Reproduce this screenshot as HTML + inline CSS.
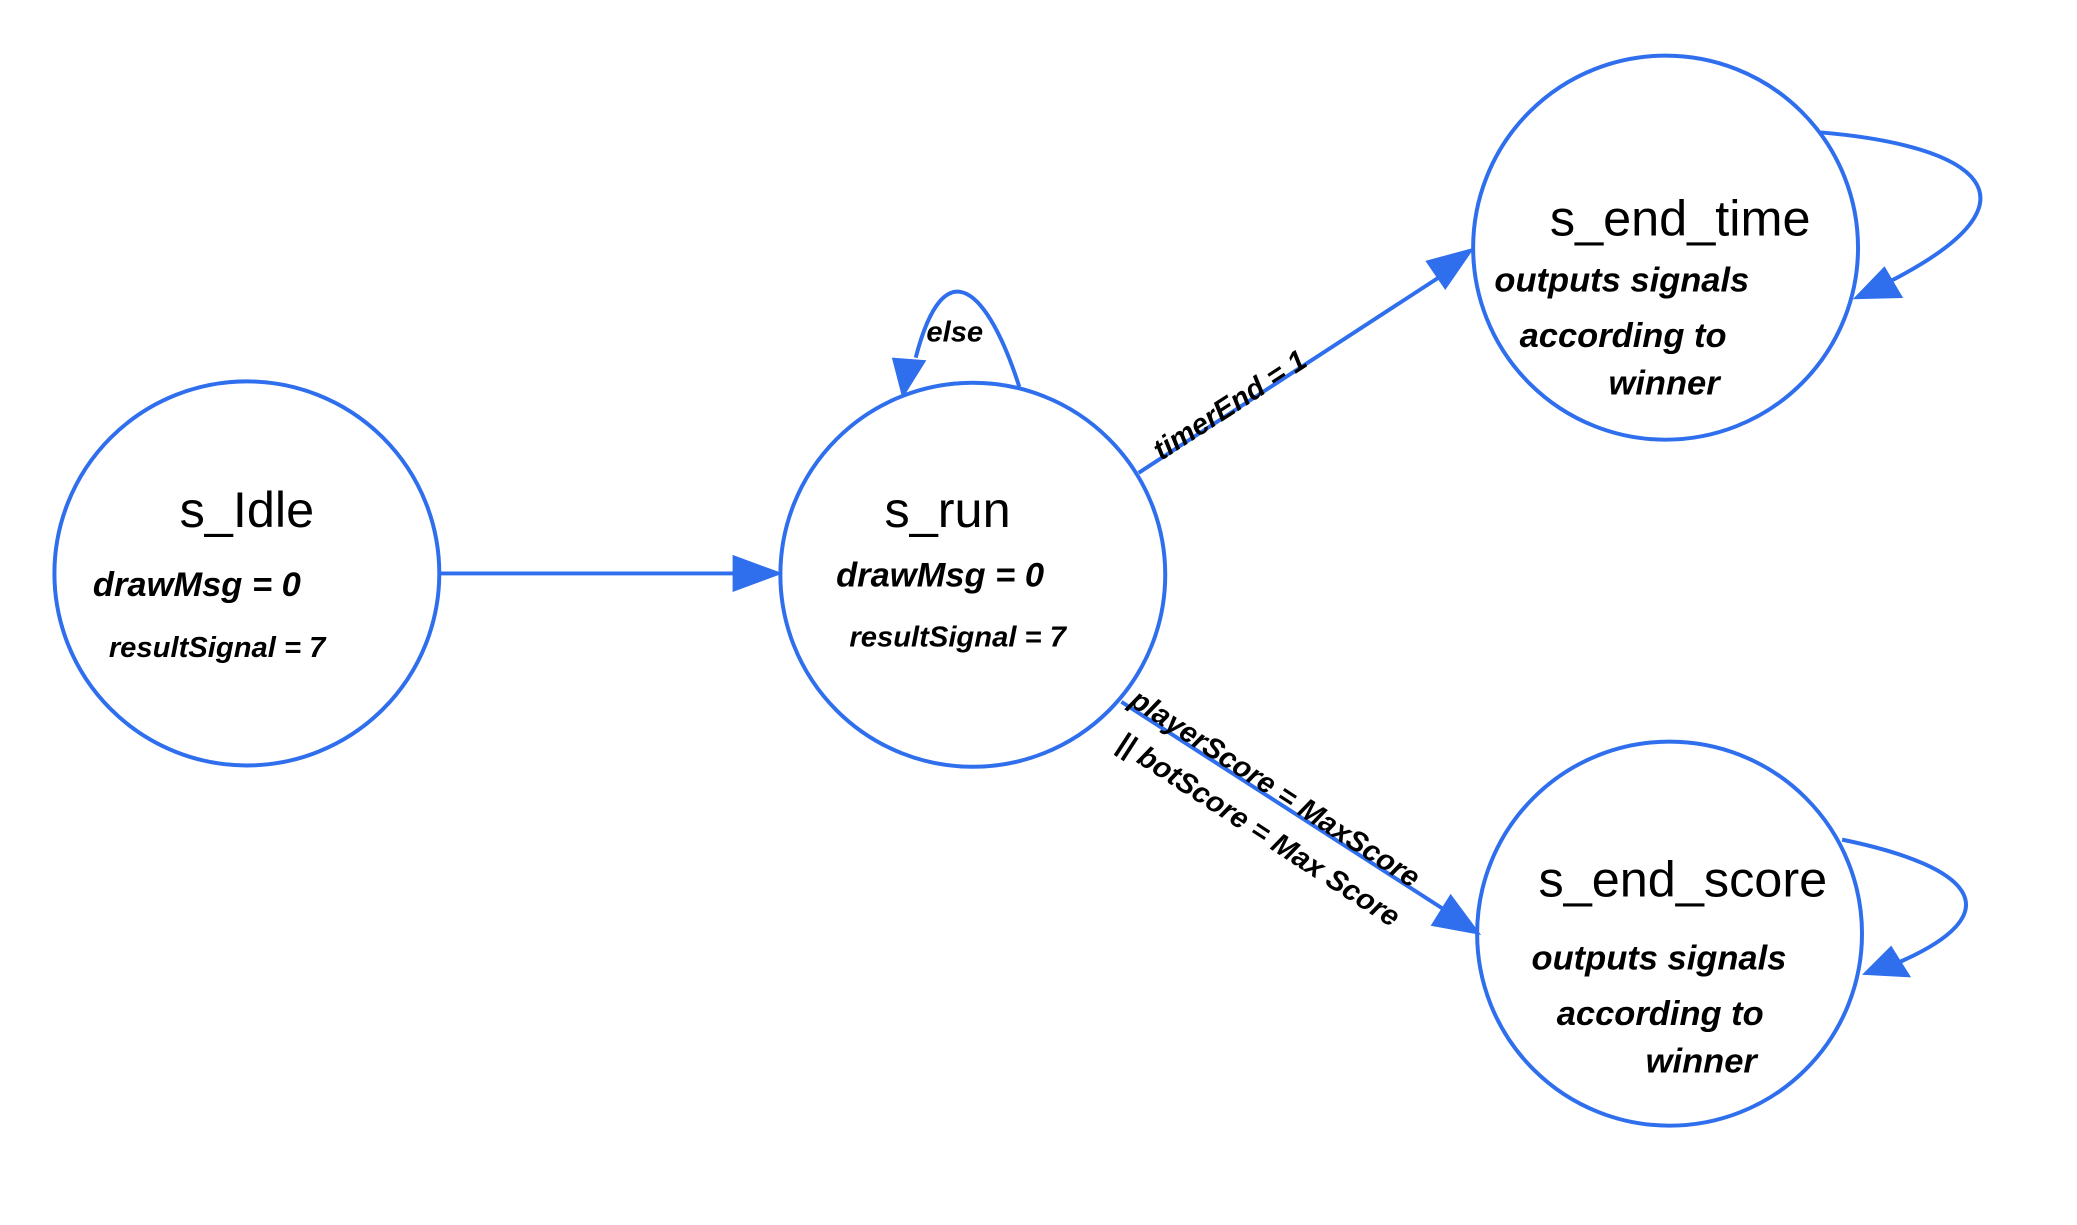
<!DOCTYPE html>
<html><head><meta charset="utf-8"><style>
html,body{margin:0;padding:0;background:#fff;}
svg{display:block}
.t{font-family:"Liberation Sans",sans-serif;font-size:38px;fill:#000}
.h{font-family:"Liberation Sans",sans-serif;font-style:italic;font-size:26px;fill:#000;font-weight:bold}
.s{font-family:"Liberation Sans",sans-serif;font-style:italic;font-size:22px;fill:#000;font-weight:bold}
</style></head><body>
<svg width="2077" height="1225" viewBox="0 0 1565 925" preserveAspectRatio="none" xmlns="http://www.w3.org/2000/svg">
<g fill="none" stroke="#2f6fed" stroke-width="3">
<circle cx="186" cy="433" r="145"/>
<circle cx="733" cy="434" r="145"/>
<circle cx="1255" cy="187" r="145"/>
<circle cx="1258" cy="705" r="145"/>
<line x1="331" y1="433" x2="555" y2="433"/>
<line x1="858" y1="357" x2="1088" y2="207"/>
<line x1="845" y1="530" x2="1090" y2="688"/>
<path d="M768 292 C745 220 712 185 690 270"/>
<path d="M1372 100 C1490 110 1545 150 1425 212"/>
<path d="M1388 634 C1490 655 1515 690 1430 727"/>
</g>
<g fill="#2f6fed">
<polygon points="552,419 590,433 552,447"/>
<polygon points="1074,197 1111,187 1089,219"/>
<polygon points="1078,699 1116,706 1093,675"/>
<polygon points="672,270 698,272 680,301"/>
<polygon points="1420,201 1434,225 1396,226"/>
<polygon points="1425,714 1440,738 1403,736"/>
</g>
<text class="t" x="186" y="398" text-anchor="middle">s_Idle</text>
<text class="h" x="70" y="450">drawMsg = 0</text>
<text class="s" x="82" y="496">resultSignal = 7</text>
<text class="t" x="714" y="398" text-anchor="middle">s_run</text>
<text class="h" x="630" y="443">drawMsg = 0</text>
<text class="s" x="640" y="488">resultSignal = 7</text>
<text class="t" x="1266" y="178" text-anchor="middle">s_end_time</text>
<text class="h" x="1126" y="220">outputs  signals</text>
<text class="h" x="1145" y="262">according  to</text>
<text class="h" x="1212" y="298">winner</text>
<text class="t" x="1268" y="677" text-anchor="middle">s_end_score</text>
<text class="h" x="1154" y="732">outputs  signals</text>
<text class="h" x="1173" y="774">according  to</text>
<text class="h" x="1240" y="810">winner</text>
<text class="s" x="698" y="258">else</text>
<text class="s" transform="translate(875,348) rotate(-33)">timerEnd = 1</text>
<text class="s" transform="translate(850,532) rotate(33)">playerScore = MaxScore</text>
<text class="s" transform="translate(840,565) rotate(33)">||  botScore = Max Score</text>
</svg>
</body></html>
